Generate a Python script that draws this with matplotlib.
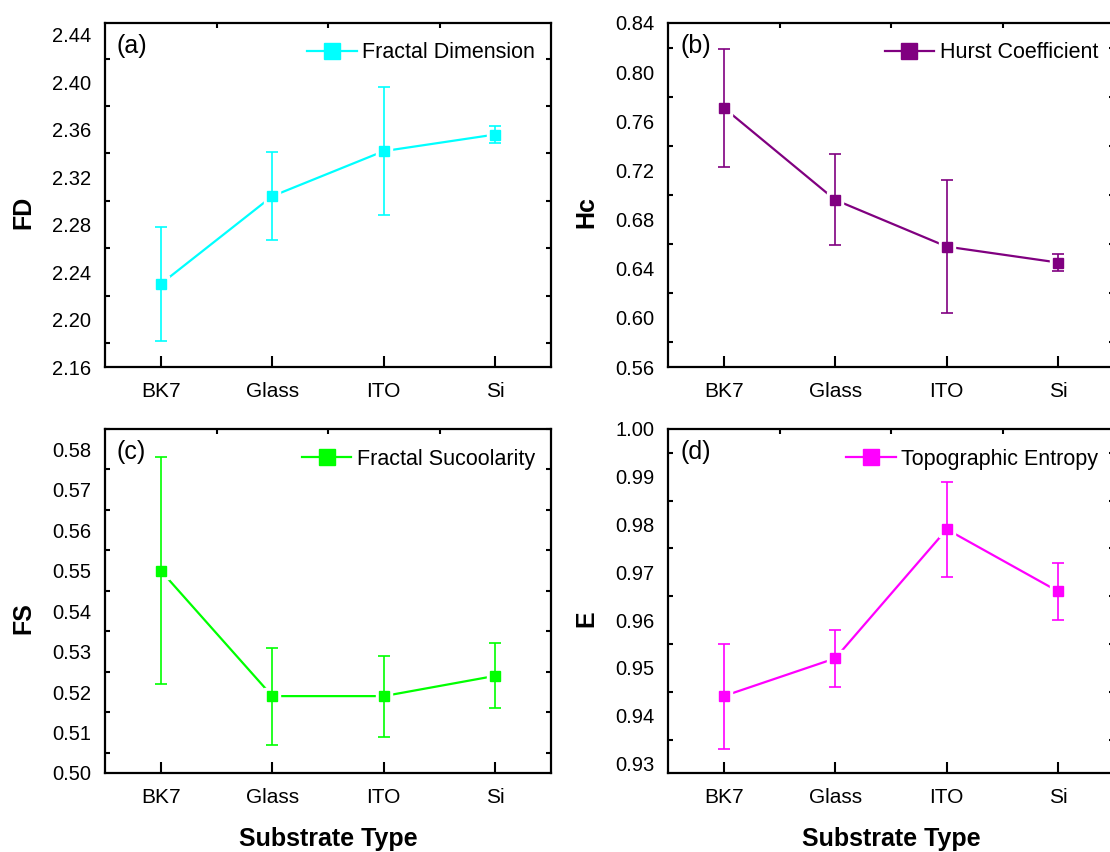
import matplotlib
matplotlib.use("Agg")
import matplotlib.pyplot as plt
import numpy as np
from matplotlib.ticker import FixedLocator
from matplotlib.lines import Line2D

plt.rcParams['font.family'] = ['Liberation Sans', 'DejaVu Sans']

substrates = ['BK7', 'Glass', 'ITO', 'Si']

fd_mean = [2.230, 2.304, 2.342, 2.356]
fd_err = [0.048, 0.037, 0.054, 0.007]

hc_mean = [0.771, 0.696, 0.658, 0.645]
hc_err = [0.048, 0.037, 0.054, 0.007]

fs_mean = [0.5500, 0.5190, 0.5190, 0.5240]
fs_err = [0.028, 0.012, 0.010, 0.008]

e_mean = [0.9441, 0.9520, 0.9790, 0.9660]
e_err = [0.011, 0.006, 0.010, 0.006]

# (means, errors, colour, legend text, y label, panel tag, y range, tick step)
panels = [
    (fd_mean, fd_err, '#00ffff', 'Fractal Dimension', 'FD', '(a)', (2.16, 2.45), 0.04),
    (hc_mean, hc_err, '#800080', 'Hurst Coefficient', 'Hc', '(b)', (0.56, 0.84), 0.04),
    (fs_mean, fs_err, '#00ff00', 'Fractal Sucoolarity', 'FS', '(c)', (0.50, 0.585), 0.01),
    (e_mean, e_err, '#ff00ff', 'Topographic Entropy', 'E', '(d)', (0.928, 1.0), 0.01),
]

W, H = 1110, 852
fig = plt.figure(figsize=(W / 100, H / 100), dpi=100)

# axes boxes in pixels: left, top, right, bottom
boxes = [(105, 23, 551, 367), (668, 23, 1114, 367),
         (105, 429, 551, 773), (668, 429, 1114, 773)]

x = np.arange(1, 5)
for i, (m, e, col, lab, ylab, tag, ylim, step) in enumerate(panels):
    l, t, r, b = boxes[i]
    aw, ah = r - l, b - t
    ax = fig.add_axes([l / W, 1 - b / H, aw / W, ah / H])

    # line, white halo to leave a small gap round the markers, then bars + markers
    ax.plot(x, m, color=col, lw=1.6, zorder=2)
    ax.plot(x, m, ls='none', marker='s', markersize=12, markerfacecolor='white',
            markeredgecolor='white', zorder=3)
    ax.errorbar(x, m, yerr=e, fmt='none', ecolor=col, elinewidth=1.2,
                capsize=4, capthick=1.2, zorder=4)
    ax.plot(x, m, ls='none', marker='s', markersize=7.5, color=col, zorder=5)

    ax.set_xlim(0.5, 4.5)
    ax.set_ylim(*ylim)

    ax.set_xticks(x)
    ax.set_xticklabels(substrates)
    ax.xaxis.set_minor_locator(FixedLocator([1.5, 2.5, 3.5]))
    ax.tick_params(axis='x', which='major', direction='in', length=8, width=1.5,
                   bottom=True, top=False, labelsize=15, pad=10.5)
    ax.tick_params(axis='x', which='minor', direction='in', length=3.6, width=1.5,
                   bottom=False, top=True)

    lo = np.ceil(ylim[0] / step - 1e-6) * step
    majors = np.arange(lo, ylim[1] + 1e-9, step)
    ax.set_yticks(majors)
    ax.set_yticklabels(['%.2f' % v for v in majors])
    ax.yaxis.set_minor_locator(FixedLocator(majors + step / 2))
    ax.tick_params(axis='y', which='major', length=0, labelsize=14.5, pad=10)
    ax.tick_params(axis='y', which='minor', direction='in', length=3.6, width=1.5,
                   left=True, right=True)

    for s in ax.spines.values():
        s.set_linewidth(1.6)

    ax.set_ylabel(ylab, fontsize=18, fontweight='bold')
    ax.yaxis.set_label_coords(-82 / aw, 0.45)
    ax.yaxis.label.set_verticalalignment('center')
    if i >= 2:
        ax.set_xlabel('Substrate Type', fontsize=18, fontweight='bold', labelpad=15)

    ax.text(12 / aw, 1 - 23 / ah, tag, transform=ax.transAxes, fontsize=18,
            va='center', ha='left')

    handle = Line2D([], [], color=col, lw=1.6, marker='s', markersize=12)
    ax.legend([handle], [lab], loc='center right',
              bbox_to_anchor=(1 - 16 / aw, 1 - 30 / ah), frameon=False,
              fontsize=15.5, handlelength=2.3, handletextpad=0.25,
              borderaxespad=0, borderpad=0)

fig.savefig('out.png', dpi=100)
